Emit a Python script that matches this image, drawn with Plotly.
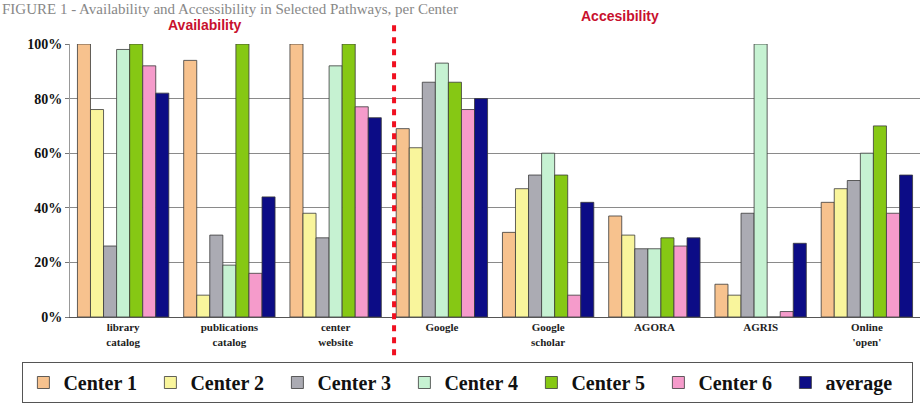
import plotly.graph_objects as go

categories = ["library<br>catalog", "publications<br>catalog", "center<br>website", "Google",
              "Google<br>scholar", "AGORA", "AGRIS", "Online<br>'open'"]
series_names = ["Center 1", "Center 2", "Center 3", "Center 4", "Center 5", "Center 6", "average"]
center1 = [100, 94, 100, 69, 31, 37, 12, 42]
center2 = [76, 8, 38, 62, 47, 30, 8, 47]
center3 = [26, 30, 29, 86, 52, 25, 38, 50]
center4 = [98, 19, 92, 93, 60, 25, 100, 60]
center5 = [100, 100, 100, 86, 52, 29, 0, 70]
center6 = [92, 16, 77, 76, 8, 26, 2, 38]
average = [82, 44, 73, 80, 42, 29, 27, 52]
values = [center1, center2, center3, center4, center5, center6, average]
colors = ["#F7C28E", "#F9F59C", "#ABABB3", "#C6F2D2", "#86C814", "#F59BCB", "#0C0C86"]
y_ticks = [0, 20, 40, 60, 80, 100]
y_tick_labels = ["0%", "20%", "40%", "60%", "80%", "100%"]

fig = go.Figure()
for name, vals, col in zip(series_names, values, colors):
    fig.add_trace(go.Bar(
        x=categories, y=vals, name=name,
        marker=dict(color=col, line=dict(color="#3a3a3a", width=0.8)),
    ))

serif = "Liberation Serif, Times New Roman, serif"
sans = "Liberation Sans, Arial, sans-serif"

fig.update_layout(
    width=920, height=403,
    margin=dict(l=70, r=0, t=44, b=86),
    paper_bgcolor="white", plot_bgcolor="white",
    barmode="group", bargap=0.14, bargroupgap=0.0,
    showlegend=True,
    legend=dict(
        orientation="h", x=-0.056, y=-0.165, xanchor="left", yanchor="top",
        font=dict(family=serif, size=20, color="#111", weight="bold"),
        bordercolor="#555", borderwidth=1, bgcolor="white",
        entrywidth=82, entrywidthmode="pixels", itemwidth=30,
        traceorder="normal",
    ),
    xaxis=dict(
        tickfont=dict(family=serif, size=11, color="#222", weight="bold"),
        showline=True, linecolor="#555", linewidth=1,
        ticks="", showgrid=False,
    ),
    yaxis=dict(
        range=[0, 100], tickvals=y_ticks, ticktext=y_tick_labels,
        tickfont=dict(family=serif, size=14, color="#111", weight="bold"),
        showgrid=True, gridcolor="#8a8a8a", gridwidth=1,
        showline=True, linecolor="#999", linewidth=1,
        ticks="outside", ticklen=4, tickcolor="#777",
        zeroline=False,
    ),
    font=dict(family=serif),
)

fig.add_shape(type="line", xref="x", yref="paper", x0=2.55, x1=2.55, y0=-0.14, y1=1.088,
              line=dict(color="#F01020", width=4, dash="6px,6px"))

fig.add_annotation(text="FIGURE 1 - Availability and Accessibility in Selected Pathways, per Center",
                   xref="paper", yref="paper", x=-0.082, y=(317 - 9) / 273, xanchor="left", yanchor="middle",
                   showarrow=False, font=dict(family=serif, size=15, color="#888"))
fig.add_annotation(text="<b>Availability</b>", xref="paper", yref="paper",
                   x=(205 - 70) / 850, y=(317 - 25) / 273, xanchor="center", yanchor="middle",
                   showarrow=False, font=dict(family=sans, size=14, color="#C8102E"))
fig.add_annotation(text="<b>Accesibility</b>", xref="paper", yref="paper",
                   x=(620 - 70) / 850, y=(317 - 16) / 273, xanchor="center", yanchor="middle",
                   showarrow=False, font=dict(family=sans, size=14, color="#C8102E"))

fig.write_html("out.html")
